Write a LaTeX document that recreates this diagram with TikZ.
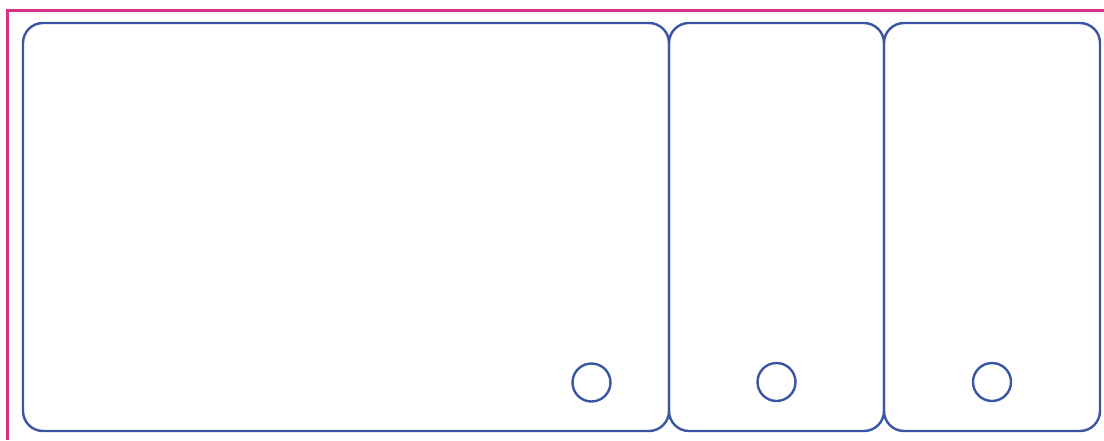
\documentclass[tikz,border=0pt]{standalone}
\definecolor{panelblue}{HTML}{3A55A4}
\definecolor{framemag}{HTML}{D63384}
\begin{document}
\begin{tikzpicture}[x=1pt,y=-1pt,
  panel/.style={draw=panelblue, line width=2.4pt, rounded corners=20pt, inner sep=0pt, outer sep=0pt},
  knob/.style={draw=panelblue, line width=2.4pt, circle, minimum size=38pt, inner sep=0pt},
  frameline/.style={draw=framemag, line width=2.2pt}]
\useasboundingbox (0,0) rectangle (1104,440);
\coordinate (fb) at (7.5,440);
\coordinate (fc) at (7.5,10.5);
\coordinate (fr) at (1104,10.5);
\draw[frameline] (fb) -- (fc) -- (fr);
\node[panel, minimum width=646pt, minimum height=408pt] (p1) at (346,227) {};
\node[panel, minimum width=215pt, minimum height=408pt] (p2) at (776.5,227) {};
\node[panel, minimum width=216pt, minimum height=408pt] (p3) at (992,227) {};
\node[knob] (k1) at (591.5,382.5) {};
\node[knob] (k2) at (776.5,382) {};
\node[knob] (k3) at (992,382) {};
\end{tikzpicture}
\end{document}
